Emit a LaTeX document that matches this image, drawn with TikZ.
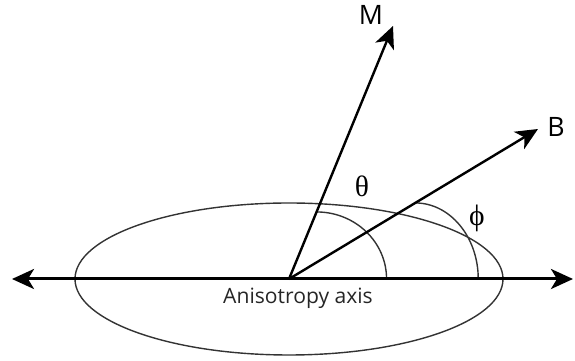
\documentclass[tikz,border=0pt]{standalone}
\usepackage{fontspec}
\setmainfont{Open Sans}
\newfontfamily\greekfont{Liberation Serif}
\usetikzlibrary{arrows.meta, calc}

\begin{document}
\begin{tikzpicture}[
                x=0.025cm, y=0.025cm,
                font=\fontsize{15}{18}\selectfont,
                >={Stealth[length=5.5mm, width=5mm, inset=1.5mm]},
                axisline/.style={<->, line width=0.075cm},
                vec/.style={->, line width=0.06cm},
                guide/.style={line width=0.035cm, black!80},
                vlabel/.style={font=\fontsize{19}{22}\selectfont},
                glabel/.style={font=\fontsize{21}{24}\selectfont\greekfont},
                ]

                \useasboundingbox (0,0) rectangle (575,361);

                \coordinate (O) at (289,82);
                \coordinate (L) at (12,82);
                \coordinate (R) at (573,82);
                \coordinate (Mtip) at (393,335);
                \coordinate (Btip) at (538,232);

                \draw[guide] (O) ellipse [x radius=214, y radius=76];

                % angle marks
                \coordinate (Mth) at ($(O)!0.265!(Mtip)$);
                \coordinate (Bph) at ($(O)!0.507!(Btip)$);
                \draw[guide] (Mth) arc[start angle=90, end angle=0, x radius=70, y radius=67];
                \draw[guide] (Bph) arc[start angle=90, end angle=0, x radius=63, y radius=76];

                \draw[axisline] (L) -- (R);
                \draw[vec] (O) -- (Mtip);
                \draw[vec] (O) -- (Btip);

                \node[vlabel] (M) at (371,346) {M};
                \node[vlabel] (B) at (556,234) {B};
                \node[glabel] (theta) at (362,175) {θ};
                \node[glabel] (phi) at (477,143) {ϕ};
                \node[text=black!85] (axislabel) at (298,63) {Anisotropy axis};
            \end{tikzpicture}
\end{document}
